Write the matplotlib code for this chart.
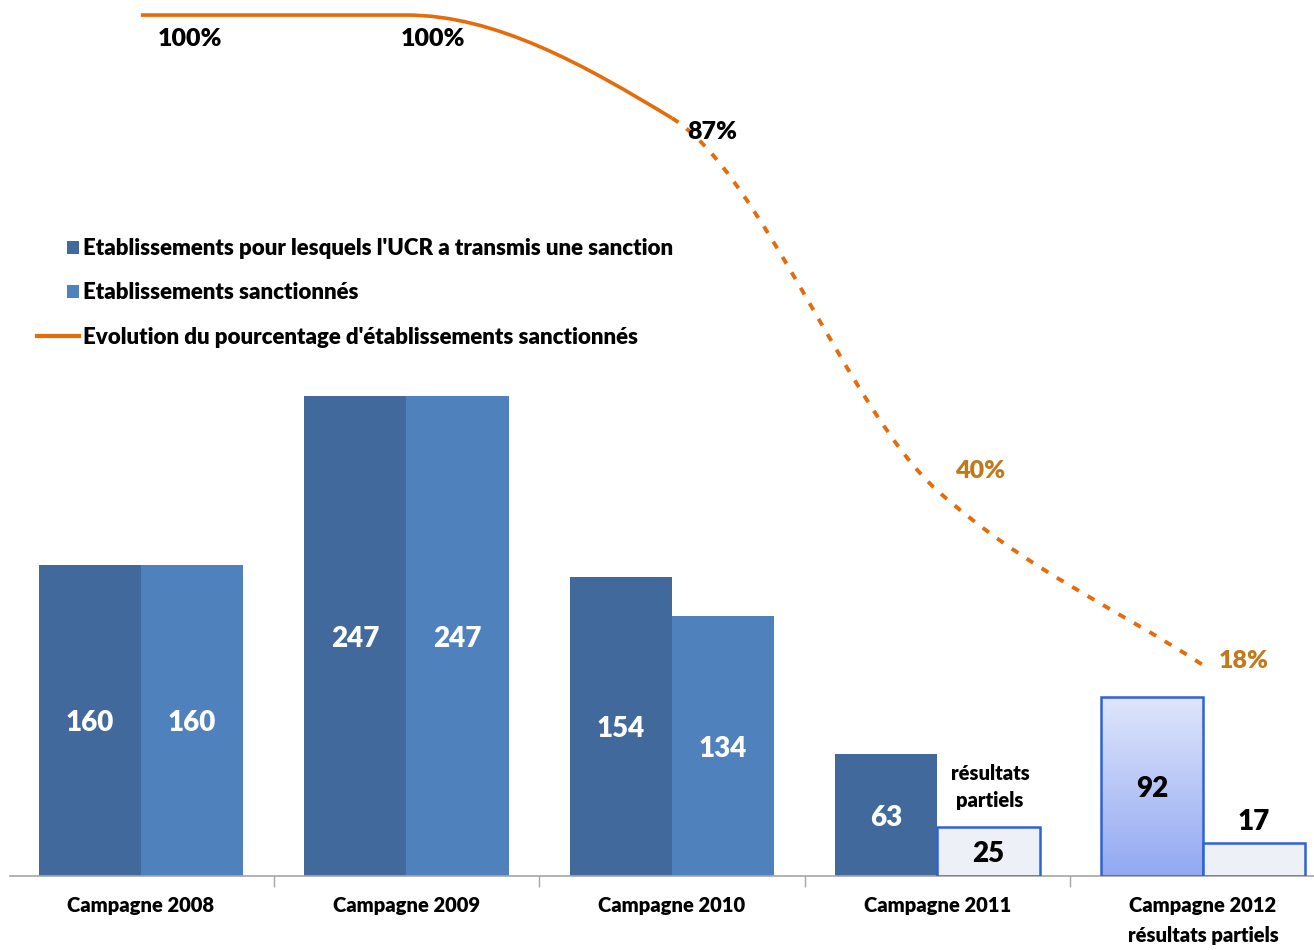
import numpy as np
import matplotlib
matplotlib.use("Agg")
import matplotlib.pyplot as plt
from matplotlib.patches import Rectangle, PathPatch
from matplotlib.path import Path
from matplotlib.lines import Line2D
from matplotlib.legend_handler import HandlerPatch
from matplotlib.colors import LinearSegmentedColormap

plt.rcParams["font.family"] = ["Lato", "DejaVu Sans"]
plt.rcParams["font.weight"] = "heavy"

campagnes = ["Campagne 2008", "Campagne 2009", "Campagne 2010",
             "Campagne 2011", "Campagne 2012\nrésultats partiels"]
ucr_transmis = [160, 247, 154, 63, 92]
sanctionnes = [160, 247, 134, 25, 17]
pct_sanctionnes = [100, 100, 87, 40, 18]
pct_labels = ["100%", "100%", "87%", "40%", "18%"]

series_labels = [
    "Etablissements pour lesquels l'UCR a transmis une sanction",
    "Etablissements sanctionnés",
    "Evolution du pourcentage d'établissements sanctionnés",
]

DARK = "#41699b"
LIGHT = "#4f81bd"
ORANGE = "#e46c0a"
PCT_LATE = "#c07a1c"
PARTIAL_FILL = "#eef0f8"
PARTIAL_EDGE = "#2f62d2"
# campaigns whose figures are still partial get the pale outlined style
partial_first = [False, False, False, False, True]
partial_second = [False, False, False, True, True]

# label offsets (points) for the percentage annotations
pct_offsets = [(35, -17), (19, -17), (29, -10), (31, 14), (29, 3)]

W = 0.385

fig = plt.figure(figsize=(13.14, 9.5), dpi=100)
ax = fig.add_axes([10 / 1314, 1 - 876 / 950, 1304 / 1314, 876 / 950])
ax2 = ax.twinx()
ax.set_zorder(1)
ax2.set_zorder(2)
ax.patch.set_visible(False)

x = np.arange(len(campagnes))
gradient = LinearSegmentedColormap.from_list("grad", ["#92a8f2", "#dfe6fb"])

bars1 = ax.bar(x - W / 2, ucr_transmis, W, color=DARK, zorder=2)
bars2 = ax.bar(x + W / 2, sanctionnes, W, color=LIGHT, zorder=2)

for bar, partial in zip(bars1, partial_first):
    if partial:
        bar.set_facecolor("none")
        bar.set_edgecolor(PARTIAL_EDGE)
        bar.set_linewidth(1.8)
        bar.set_zorder(4)
        x0 = bar.get_x()
        img = ax.imshow(np.linspace(0, 1, 256).reshape(-1, 1), cmap=gradient,
                        extent=(x0, x0 + bar.get_width(), 0, bar.get_height()),
                        origin="lower", aspect="auto", zorder=3)
        img.set_clip_path(bar)
for bar, partial in zip(bars2, partial_second):
    if partial:
        bar.set_facecolor(PARTIAL_FILL)
        bar.set_edgecolor(PARTIAL_EDGE)
        bar.set_linewidth(1.8)
        bar.set_zorder(4)

for bars, partials in ((bars1, partial_first), (bars2, partial_second)):
    for bar, partial in zip(bars, partials):
        v = bar.get_height()
        cx = bar.get_x() + bar.get_width() / 2
        color = "black" if partial else "white"
        if v < 20:
            ax.text(cx, v + 4, f"{v:g}", ha="center", va="bottom",
                    fontsize=20, color=color, zorder=6)
        else:
            ax.annotate(f"{v:g}", (cx, v / 2), xytext=(0, -2),
                        textcoords="offset points", ha="center", va="center",
                        fontsize=20, color=color, zorder=6)

# note above the partial 2011 bar
ax.text(x[3] + W / 2 + 0.005, sanctionnes[3] + 9, "résultats\npartiels",
        ha="center", va="bottom", fontsize=14.5, linespacing=1.5, zorder=6)

ax.set_xlim(-0.493, 4.418)
ax.set_ylim(0, 876 / 1.943)
ax.set_xticks(x)
ax.set_xticklabels(campagnes, fontsize=14.5)
ax.get_xticklabels()[4].set_linespacing(1.65)
ax.tick_params(axis="x", which="major", length=0, pad=14.5)
ax.set_xticks(x[:-1] + 0.5, minor=True)
ax.tick_params(axis="x", which="minor", length=8, color="#a6a6a6", width=1)
ax.set_yticks([])
for side in ("top", "left", "right"):
    ax.spines[side].set_visible(False)
ax.spines["bottom"].set_color("#a6a6a6")
ax.spines["bottom"].set_linewidth(1.2)

# percentage curve: monotone cubic Bezier segments through the yearly values
ax2.set_ylim(-8.6, 101.9)
ax2.set_yticks([])
for s in ax2.spines.values():
    s.set_visible(False)
pts = np.column_stack([x, pct_sanctionnes]).astype(float)
d = np.diff(pts[:, 1])
m = np.zeros(len(pts))
m[0], m[-1] = d[0], d[-1]
for i in range(1, len(pts) - 1):
    if d[i - 1] * d[i] > 0:
        m[i] = 2 * d[i - 1] * d[i] / (d[i - 1] + d[i])


def bezier_path(i_start, i_end):
    verts = [pts[i_start]]
    codes = [Path.MOVETO]
    for i in range(i_start, i_end):
        p0, p1 = pts[i], pts[i + 1]
        verts += [p0 + np.array([1 / 3, m[i] / 3]),
                  p1 - np.array([1 / 3, m[i + 1] / 3]), p1]
        codes += [Path.CURVE4] * 3
    return Path(verts, codes)


ax2.add_patch(PathPatch(bezier_path(0, 2), fill=False, edgecolor=ORANGE,
                        linewidth=2.6, capstyle="butt"))
ax2.add_patch(PathPatch(bezier_path(2, 4), fill=False, edgecolor=ORANGE,
                        linewidth=2.8, linestyle=(0, (2.0, 2.6)),
                        capstyle="butt"))

for i, (v, lab) in enumerate(zip(pct_sanctionnes, pct_labels)):
    ax2.annotate(lab, (x[i], v), xytext=pct_offsets[i],
                 textcoords="offset points", ha="center", va="center",
                 fontsize=18, color="black" if i < 3 else PCT_LATE)


class SmallSquare(HandlerPatch):
    def create_artists(self, legend, orig_handle, xdescent, ydescent,
                       width, height, fontsize, trans):
        s = height * 0.8
        p = Rectangle((width - s - xdescent, -ydescent + (height - s) / 2),
                      s, s, facecolor=orig_handle.get_facecolor(),
                      edgecolor="none", transform=trans)
        return [p]


handles = [Rectangle((0, 0), 1, 1, color=DARK),
           Rectangle((0, 0), 1, 1, color=LIGHT),
           Line2D([], [], color=ORANGE, linewidth=3)]
ax2.legend(handles, series_labels, loc="upper left",
           bbox_to_anchor=(26 / 1314, 1 - 227 / 950),
           bbox_transform=fig.transFigure, frameon=False, fontsize=16,
           handlelength=1.9, handletextpad=0.15, labelspacing=1.05,
           borderpad=0, handler_map={Rectangle: SmallSquare()})

fig.savefig("out.png", dpi=100)
